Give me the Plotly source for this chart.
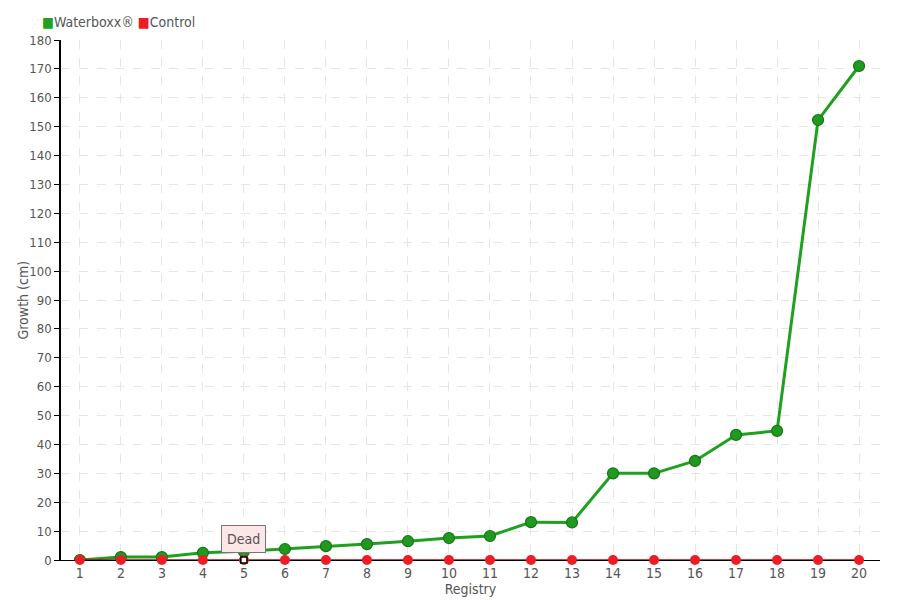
import plotly.graph_objects as go

registry = list(range(1, 21))
waterboxx = [0, 1, 1, 2.5, 3, 3.8, 4.8, 5.5, 6.5, 7.6, 8.3, 13.1, 13, 30, 30, 34.3, 43.3, 44.7, 152.3, 171]
control = [0] * 20
dead_idx = 4  # registry 5

font_name = "DejaVu Sans Condensed"
grey = "#555555"
green = "#1fa01f"
red = "#ee1c25"

fig = go.Figure()
fig.add_trace(go.Scatter(
    x=registry, y=waterboxx, name="Waterboxx®", mode="lines+markers",
    line=dict(color=green, width=3),
    marker=dict(size=11, color="#1f9a1f", line=dict(color="#177417", width=1.2)),
))
fig.add_trace(go.Scatter(
    x=registry, y=control, name="Control", mode="lines+markers",
    line=dict(color="#bb0011", width=1.5),
    marker=dict(size=10, color=red),
    cliponaxis=False,
))
# marker for the dead plant
fig.add_trace(go.Scatter(
    x=[registry[dead_idx]], y=[control[dead_idx]], mode="markers",
    marker=dict(size=6, color="white", symbol="square", line=dict(color="black", width=1.5)),
    cliponaxis=False,
))

fig.add_annotation(
    x=registry[dead_idx], y=control[dead_idx], text="Dead", showarrow=True,
    ax=0, ay=-21, arrowhead=0, arrowcolor="#777777", arrowwidth=1, standoff=4,
    bgcolor="#fde6e6", bordercolor="#777777", borderwidth=1, borderpad=5,
    font=dict(family=font_name, size=14, color=grey),
)

# legend drawn as text so the markers are small squares
legend_txt = (f"<span style='color:{green}'>■</span>Waterboxx® "
              f"<span style='color:{red}'>■</span>Control")
fig.add_annotation(
    xref="paper", yref="paper", x=-0.026, y=1.035, xanchor="left", yanchor="middle",
    text=legend_txt, showarrow=False, font=dict(family=font_name, size=14, color=grey),
)
# y title placed by hand
fig.add_annotation(
    xref="paper", yref="paper", x=-0.047, y=0.5, xanchor="center", yanchor="middle",
    text="Growth (cm)", textangle=-90, showarrow=False,
    font=dict(family=font_name, size=14, color=grey),
)

# the page puts the figure 8px in from the top-left, so margins are shifted
fig.update_layout(
    width=900, height=600,
    margin=dict(l=53, r=28, t=32, b=48),
    paper_bgcolor="white", plot_bgcolor="white",
    font=dict(family=font_name, size=13, color=grey),
    showlegend=False,
)
fig.update_xaxes(
    range=[0.54, 20.51], tickmode="array", tickvals=registry,
    showgrid=True, gridcolor="#e6e6e6", griddash="dash", gridwidth=1,
    showline=True, linecolor="black", linewidth=1, ticks="", zeroline=False,
    title=dict(text="Registry", standoff=0, font=dict(size=14)),
    tickfont=dict(size=14), automargin=False, layer="below traces",
)
fig.update_yaxes(
    range=[0, 180], dtick=10,
    showgrid=True, gridcolor="#e6e6e6", griddash="dash", gridwidth=1,
    showline=True, linecolor="black", linewidth=1.5, ticks="outside", ticklen=5,
    tickcolor="black", zeroline=False,
    tickfont=dict(size=13), automargin=False, layer="below traces",
)

fig.write_html("out.html")
